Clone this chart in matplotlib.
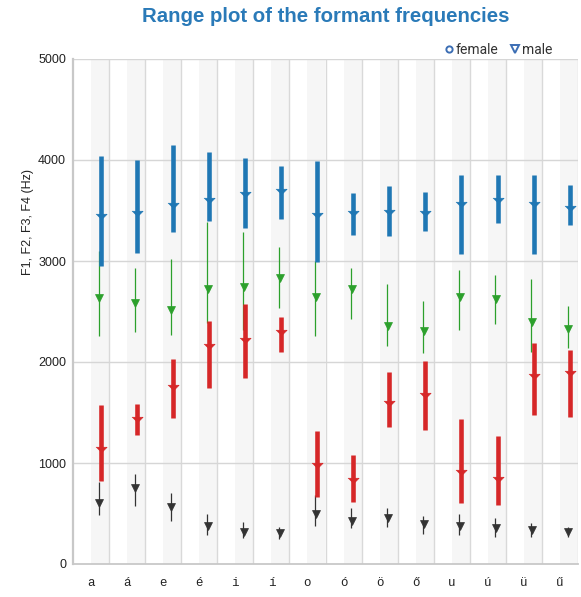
import matplotlib
matplotlib.use("Agg")
import matplotlib.pyplot as plt
from matplotlib.lines import Line2D
import numpy as np

vowels = ['a', 'á', 'e', 'é', 'i', 'í', 'o', 'ó', 'ö', 'ő', 'u', 'ú', 'ü', 'ű']

# F1 (Hz): range low, range high, male mean
f1_low  = [486, 575, 430, 288, 255, 248, 380, 354, 370, 295, 288, 271, 271, 271]
f1_high = [816, 890, 707, 496, 420, 370, 680, 553, 553, 480, 493, 453, 403, 370]
f1_male = [602, 751, 569, 380, 320, 304, 496, 430, 453, 394, 380, 354, 337, 314]

# F2
f2_low  = [823, 1280, 1445, 1743, 1842, 2100, 668, 618, 1353, 1323, 608, 585, 1478, 1455]
f2_high = [1577, 1587, 2030, 2404, 2579, 2447, 1313, 1081, 1902, 2007, 1435, 1263, 2189, 2116]
f2_male = [1141, 1438, 1753, 2163, 2222, 2295, 982, 827, 1594, 1677, 910, 840, 1858, 1892]

# F3
f3_low  = [2255, 2295, 2265, 2388, 2315, 2537, 2262, 2428, 2163, 2090, 2312, 2378, 2100, 2140]
f3_high = [3098, 2927, 3016, 3386, 3287, 3142, 3000, 2927, 2768, 2602, 2907, 2857, 2817, 2553]
f3_male = [2636, 2586, 2510, 2725, 2741, 2827, 2644, 2718, 2361, 2305, 2646, 2626, 2394, 2328]

# F4
f4_low  = [2949, 3082, 3287, 3400, 3326, 3419, 2989, 3257, 3247, 3297, 3072, 3380, 3072, 3353]
f4_high = [4041, 4001, 4147, 4084, 4018, 3942, 3991, 3671, 3743, 3684, 3849, 3849, 3849, 3753]
f4_male = [3445, 3479, 3552, 3601, 3667, 3693, 3452, 3479, 3485, 3479, 3562, 3601, 3562, 3529]

yticks = [0, 1000, 2000, 3000, 4000, 5000]

fig = plt.figure(figsize=(5.81, 5.97), dpi=100)
ax = fig.add_axes([73/581, 1-564/597, (578-73)/581, (564-59)/597])

x = np.arange(len(vowels))
n = len(vowels)

# background bands and grid
for i in range(n):
    ax.axvspan(i, i + 0.5, color='#f6f6f6', lw=0, zorder=0)
for i in range(n):
    ax.axvline(i + 0.5, color='#d9d9d9', lw=1.0, zorder=0.5)
for yv in yticks[1:]:
    ax.axhline(yv, color='#d6d6d6', lw=1.0, zorder=0.5)

thin_off = 0.21
thick_off = 0.27

tri_flat = [(-1, 0.4), (1, 0.4), (0, -0.6)]

series = [
    (f1_low, f1_high, f1_male, '#333333', 0.9, thin_off, 'v', 5.5),
    (f3_low, f3_high, f3_male, '#2ca02c', 0.9, thin_off, 'v', 5.5),
    (f2_low, f2_high, f2_male, '#d62728', 3.3, thick_off, tri_flat, 8),
    (f4_low, f4_high, f4_male, '#1f77b4', 3.3, thick_off, tri_flat, 8),
]

z = 2
for lo, hi, me, col, lw, off, mk, ms in series:
    ax.vlines(x + off, lo, hi, color=col, lw=lw, zorder=z)
    ax.plot(x + (0.23 if lw < 2 else off), me, linestyle='none', marker=mk,
            ms=ms, color=col, mec=col, mew=0.5, zorder=z + 0.5)
    z += 1

ax.set_xlim(-0.5, n - 0.5)
ax.set_ylim(0, 5000)
ax.set_xticks(x)
ax.set_xticklabels(vowels, family='Liberation Mono', fontsize=9, color='#222222')
ax.set_yticks(yticks)
ax.set_yticklabels([str(v) for v in yticks], family='Liberation Sans', fontsize=9, color='#222222')
ax.tick_params(axis='both', length=0)
ax.tick_params(axis='x', pad=9)
ax.tick_params(axis='y', pad=5)

for s in ['top', 'right']:
    ax.spines[s].set_visible(False)
ax.spines['left'].set_color('#c8c8c8')
ax.spines['left'].set_linewidth(1.6)
ax.spines['bottom'].set_color('#c8c8c8')
ax.spines['bottom'].set_linewidth(1.3)

ax.set_ylabel('F1, F2, F3, F4 (Hz)', family='Liberation Sans', fontsize=9, color='#222222')
ax.yaxis.set_label_coords(-0.077, 0.677)

fig.text(0.5 * (73 + 578) / 581, 1 - 16/597, 'Range plot of the formant frequencies',
         ha='center', va='center', family='Liberation Sans', fontweight='bold',
         fontsize=14.7, color='#2a7ab8')

handles = [
    Line2D([], [], linestyle='none', marker='o', ms=4.5, mfc='none', mec='#3c6eb4', mew=1.4),
    Line2D([], [], linestyle='none', marker='v', ms=5.5, mfc='none', mec='#3c6eb4', mew=1.4),
]
leg = fig.legend(handles, ['female', 'male'], loc='center right',
                 bbox_to_anchor=(552/581, 1 - 50/597), ncol=2, frameon=False,
                 handlelength=0.5, handletextpad=0.2, columnspacing=1.0,
                 prop={'family': 'Roboto', 'size': 10}, borderpad=0, borderaxespad=0)
for t in leg.get_texts():
    t.set_color('#333333')

fig.savefig('out.png', dpi=100)
